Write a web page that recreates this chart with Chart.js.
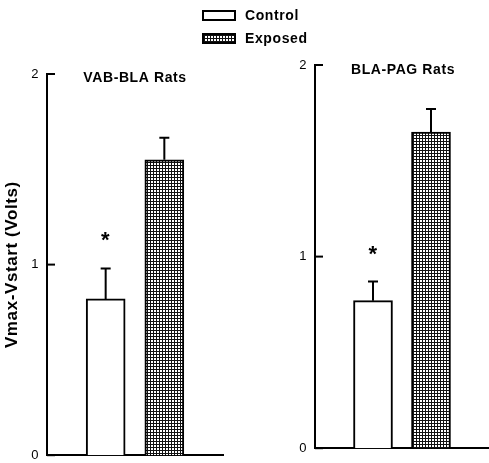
<!DOCTYPE html>
<html>
<head>
<meta charset="utf-8">
<script src="https://cdn.jsdelivr.net/npm/chart.js@4/dist/chart.umd.min.js"></script>
<style>
  body { margin: 0; background: #fff; }
  #wrap { position: relative; width: 489px; height: 463px; overflow: hidden; font-family: "Liberation Sans", Arial, sans-serif; }
  canvas { position: absolute; top: 0; }
  .key { position: absolute; left: 202px; width: 30px; height: 7px; border: 2px solid #000; background: #fff; }
  .key.exposed {
    background-image:
      repeating-linear-gradient(90deg, #111 0 1px, transparent 1px 3px),
      repeating-linear-gradient(0deg, #111 0 1px, #fff 1px 3px);
  }
  .keyText { position: absolute; left: 245px; font-weight: bold; font-size: 14px; letter-spacing: 0.6px; line-height: 16px; color: #000; }
</style>
</head>
<body>
<div id="wrap">
  <canvas id="left" width="240" height="471" style="left:0"></canvas>
  <canvas id="right" width="223" height="464" style="left:266px"></canvas>
  <div class="key" style="top:10px"></div>
  <div class="keyText" style="top:7px">Control</div>
  <div class="key exposed" style="top:33px"></div>
  <div class="keyText" style="top:30px">Exposed</div>
</div>
<script>
// values (Volts)
const groups = ['', 'Control', 'Exposed', ''];
const panelTitles = ['VAB-BLA Rats', 'BLA-PAG Rats'];
const controlMeans = [0.82, 0.77];
const controlSEM = [0.16, 0.10];
const exposedMeans = [1.55, 1.65];
const exposedSEM = [0.115, 0.12];
const controlStar = [true, true];
const yTicks = [0, 1, 2];

function gridPattern(ctx) {
  const c = document.createElement('canvas');
  c.width = 3; c.height = 3;
  const g = c.getContext('2d');
  g.fillStyle = '#fff'; g.fillRect(0, 0, 3, 3);
  g.fillStyle = '#111'; g.fillRect(0, 0, 3, 1); g.fillRect(0, 0, 1, 3);
  return ctx.createPattern(c, 'repeat');
}

const extras = {
  id: 'extras',
  beforeDraw(chart) {
    chart.ctx.letterSpacing = '0.6px';
  },
  afterDatasetsDraw(chart, args, opts) {
    const ctx = chart.ctx;
    const y = chart.scales.y;
    const area = chart.chartArea;
    ctx.save();
    ctx.strokeStyle = '#000';
    ctx.fillStyle = '#000';
    ctx.lineWidth = 2;
    // error bars (upper half only) and stars
    chart.data.datasets.forEach((ds, di) => {
      const meta = chart.getDatasetMeta(di);
      meta.data.forEach((bar, i) => {
        const v = ds.data[i];
        if (v == null) return;
        const top = y.getPixelForValue(v + ds.sem[i]);
        ctx.beginPath();
        ctx.moveTo(bar.x, bar.y);
        ctx.lineTo(bar.x, top);
        ctx.moveTo(bar.x - 5, top);
        ctx.lineTo(bar.x + 5, top);
        ctx.stroke();
        if (ds.star && ds.star[i]) {
          ctx.font = 'bold 22px "Liberation Sans", Arial, sans-serif';
          ctx.textAlign = 'center';
          ctx.textBaseline = 'alphabetic';
          ctx.fillText('*', bar.x, top - 21);
        }
      });
    });
    // inward ticks
    yTicks.forEach(t => {
      const py = y.getPixelForValue(t);
      ctx.beginPath();
      ctx.moveTo(area.left, py);
      ctx.lineTo(area.left + 8, py);
      ctx.stroke();
    });
    // panel title
    ctx.font = 'bold 14px "Liberation Sans", Arial, sans-serif';
    ctx.textAlign = 'center';
    ctx.textBaseline = 'middle';
    ctx.fillText(opts.title, area.left + opts.titleDx, opts.titleY);
    ctx.restore();
  }
};

function makePanel(id, p, layout) {
  const ctx = document.getElementById(id).getContext('2d');
  new Chart(ctx, {
    type: 'bar',
    data: {
      labels: groups,
      datasets: [
        {
          label: 'Control',
          data: [null, controlMeans[p], null, null],
          sem: [null, controlSEM[p], null, null],
          star: [false, controlStar[p], false, false],
          backgroundColor: '#fff',
          borderColor: '#000',
          borderWidth: 2,
          barThickness: 39
        },
        {
          label: 'Exposed',
          data: [null, null, exposedMeans[p], null],
          sem: [null, null, exposedSEM[p], null],
          backgroundColor: gridPattern(ctx),
          borderColor: '#000',
          borderWidth: 2,
          barThickness: 39
        }
      ]
    },
    options: {
      responsive: false,
      animation: false,
      grouped: false,
      layout: { padding: layout.padding },
      plugins: {
        legend: { display: false },
        tooltip: { enabled: false },
        extras: { title: panelTitles[p], titleDx: layout.titleDx, titleY: layout.titleY }
      },
      scales: {
        x: {
          type: 'category',
          offset: false,
          grid: { display: false },
          ticks: { display: false },
          border: { color: '#000', width: 2 },
          afterFit: s => { s.height = 0; }
        },
        y: {
          min: 0,
          max: 2,
          grid: { display: false, drawTicks: false },
          border: { color: '#000', width: 2 },
          ticks: {
            stepSize: 1,
            padding: 8,
            color: '#000',
            font: { family: '"Liberation Sans", Arial, sans-serif', size: 13 }
          },
          title: {
            display: layout.yTitle,
            text: 'Vmax-Vstart (Volts)',
            color: '#000',
            padding: { top: 2, bottom: 0 },
            font: { family: '"Liberation Sans", Arial, sans-serif', size: 17, weight: 'bold' }
          },
          afterFit: s => { s.width = layout.yWidth; }
        }
      }
    },
    plugins: [extras]
  });
}

makePanel('left', 0, {
  padding: { top: 74, right: 17, bottom: 8, left: 0 },
  yWidth: 47, yTitle: true, titleDx: 88, titleY: 78
});
makePanel('right', 1, {
  padding: { top: 65, right: 0, bottom: 8, left: 0 },
  yWidth: 49, yTitle: false, titleDx: 88, titleY: 70
});
</script>
</body>
</html>
